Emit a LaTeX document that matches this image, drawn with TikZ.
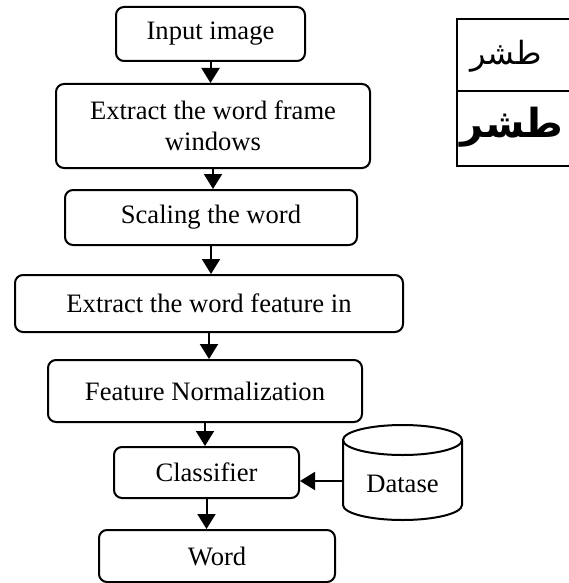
\documentclass[tikz,border=0pt]{standalone}
\usepackage{fontspec}
\setmainfont{Liberation Serif}
\newfontfamily\arabicfont[Script=Arabic]{DejaVu Sans}
\TeXXeTstate=1
\usetikzlibrary{arrows.meta}

\tikzset{
  stepbox/.style={draw, line width=1pt, rounded corners=4pt, inner sep=2pt, align=center,
    font=\fontsize{13.3}{15.5}\selectfont},
  flow/.style={line width=1pt, -{Triangle[width=9pt, length=7.5pt]}}
}

\begin{document}
\begin{tikzpicture}[x=0.5pt, y=-0.5pt]
  \useasboundingbox (0,0) rectangle (568,583);
  % flow chart boxes
  \node[stepbox, minimum width=94.5pt, minimum height=27pt] (inp) at (210.5,34) {Input image};
  \node[stepbox, minimum width=157pt, minimum height=42pt] (frm) at (213,126) {Extract the word frame\\windows};
  \node[stepbox, minimum width=146pt, minimum height=27.5pt] (scl) at (211,217.5) {Scaling the word};
  \node[stepbox, minimum width=194pt, minimum height=28.5pt] (fea) at (209,303.5) {Extract the word feature in};
  \node[stepbox, minimum width=157pt, minimum height=31pt] (nrm) at (205,391) {Feature Normalization};
  \node[stepbox, minimum width=92.5pt, minimum height=25.5pt] (cls) at (206.5,472.5) {Classifier};
  \node[stepbox, minimum width=118pt, minimum height=26pt] (wrd) at (217,556) {Word};
  % dataset cylinder
  \draw[line width=1pt, fill=white] (343,440) -- (343,505)
    arc[start angle=180, end angle=0, x radius=59.5, y radius=15] -- (462,440);
  \draw[line width=1pt] (402.5,440) ellipse [x radius=59.5, y radius=15];
  \node[font=\fontsize{13.3}{15.5}\selectfont] (db) at (402.5,484) {Datase};
  \coordinate (dbin) at (343,481);
  % arrows
  \draw[flow] (inp.south) -- (inp.south |- frm.north);
  \draw[flow] (frm.south) -- (frm.south |- scl.north);
  \draw[flow] (scl.south) -- (scl.south |- fea.north);
  \draw[flow] (fea.south) -- (fea.south |- nrm.north);
  \draw[flow] (nrm.south) -- (nrm.south |- cls.north);
  \draw[flow] (cls.south) -- (cls.south |- wrd.north);
  \draw[flow] (dbin) -- (dbin -| cls.east);
  % word samples
  \draw[line width=1pt] (457,19) rectangle (580,91);
  \draw[line width=1pt] (457,91) rectangle (580,166);
  \node[font=\arabicfont\fontsize{16}{20}\selectfont] (ar1) at (506,56) {\beginR طشر\endR};
  \node[font=\arabicfont\bfseries\fontsize{20}{24}\selectfont, inner sep=0pt] (ar2) at (512,127) {\beginR طشر\endR};
\end{tikzpicture}
\end{document}
